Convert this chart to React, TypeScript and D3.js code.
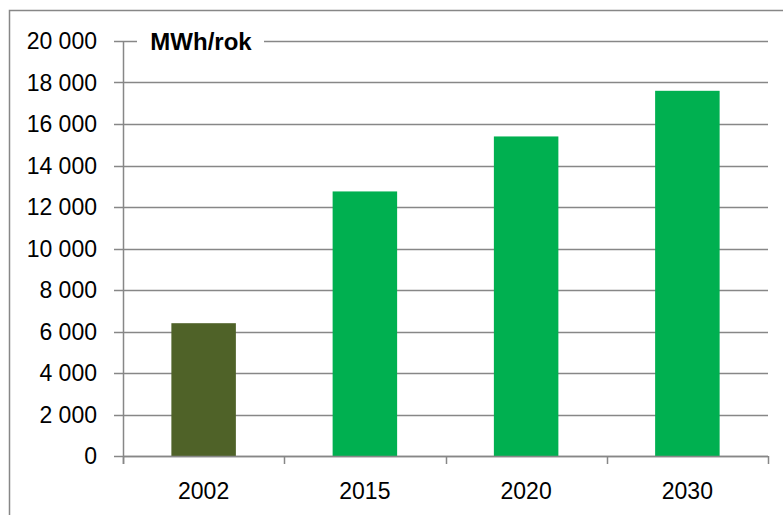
import React, { useEffect, useRef } from 'react'
import * as d3 from 'd3'

const years = ['2002', '2015', '2020', '2030']
const values = [6400, 12750, 15400, 17600]
const colors = ['#4F6228', '#00B050', '#00B050', '#00B050']
const yTicks = [0, 2000, 4000, 6000, 8000, 10000, 12000, 14000, 16000, 18000, 20000]
const unitLabel = 'MWh/rok'

const W = 783
const H = 515
const FONT = '"Liberation Sans", Arial, sans-serif'
const GRID = '#878787'

export default function App() {
  const ref = useRef<SVGSVGElement>(null)

  useEffect(() => {
    if (!ref.current) return
    const svg = d3.select(ref.current)
    svg.selectAll('*').remove()

    const left = 123
    const right = 768
    const top = 41
    const bottom = 456

    // outer frame (right / bottom edges run off the picture)
    svg.append('rect')
      .attr('x', 9.5).attr('y', 10.5)
      .attr('width', W + 10).attr('height', H + 10)
      .attr('fill', 'white').attr('stroke', GRID).attr('stroke-width', 1.5)

    const x = d3.scaleBand().domain(years).range([left, right]).paddingInner(0.6).paddingOuter(0.3)
    const y = d3.scaleLinear().domain([0, 20000]).range([bottom, top])

    const fmt = (v: number) => d3.format(',')(v).replace(/,/g, ' ')

    // gridlines + y tick labels
    const g = svg.append('g')
    g.selectAll('line.grid').data(yTicks).enter().append('line')
      .attr('x1', left - 9).attr('x2', right)
      .attr('y1', (d) => Math.round(y(d)) + 0.5).attr('y2', (d) => Math.round(y(d)) + 0.5)
      .attr('stroke', GRID).attr('stroke-width', 1.5)

    g.selectAll('text.ytick').data(yTicks).enter().append('text')
      .attr('x', 97).attr('y', (d) => y(d))
      .attr('dy', '0.36em')
      .attr('text-anchor', 'end')
      .attr('font-family', FONT).attr('font-size', 23).attr('fill', '#000')
      .text((d) => fmt(d))

    // unit label over the top gridline
    svg.append('rect').attr('x', 137).attr('y', top - 14).attr('width', 127).attr('height', 28).attr('fill', 'white')
    svg.append('text')
      .attr('x', 201).attr('y', top).attr('dy', '0.36em')
      .attr('text-anchor', 'middle')
      .attr('font-family', FONT).attr('font-size', 24).attr('font-weight', 'bold')
      .text(unitLabel)

    // bars
    svg.selectAll('rect.bar').data(years).enter().append('rect')
      .attr('x', (d) => x(d) as number)
      .attr('width', x.bandwidth())
      .attr('y', (d, i) => y(values[i]))
      .attr('height', (d, i) => bottom - y(values[i]))
      .attr('fill', (d, i) => colors[i])

    // axes lines
    svg.append('line').attr('x1', left + 0.5).attr('x2', left + 0.5).attr('y1', top).attr('y2', bottom + 8)
      .attr('stroke', GRID).attr('stroke-width', 1.5)
    svg.append('line').attr('x1', left).attr('x2', right).attr('y1', bottom + 0.5).attr('y2', bottom + 0.5)
      .attr('stroke', GRID).attr('stroke-width', 1.5)

    const step = (right - left) / years.length
    const xTicks = d3.range(years.length + 1).map((i) => left + i * step)
    svg.selectAll('line.xtick').data(xTicks).enter().append('line')
      .attr('x1', (d) => Math.round(d) + 0.5).attr('x2', (d) => Math.round(d) + 0.5)
      .attr('y1', bottom).attr('y2', bottom + 8)
      .attr('stroke', GRID).attr('stroke-width', 1.5)

    svg.selectAll('text.xlab').data(years).enter().append('text')
      .attr('x', (d) => (x(d) as number) + x.bandwidth() / 2)
      .attr('y', 499)
      .attr('text-anchor', 'middle')
      .attr('font-family', FONT).attr('font-size', 23).attr('fill', '#000')
      .text((d) => d)
  }, [])

  return (
    <svg ref={ref} width={W} height={H} style={{ position: 'absolute', left: 0, top: 0, background: 'white' }} />
  )
}
